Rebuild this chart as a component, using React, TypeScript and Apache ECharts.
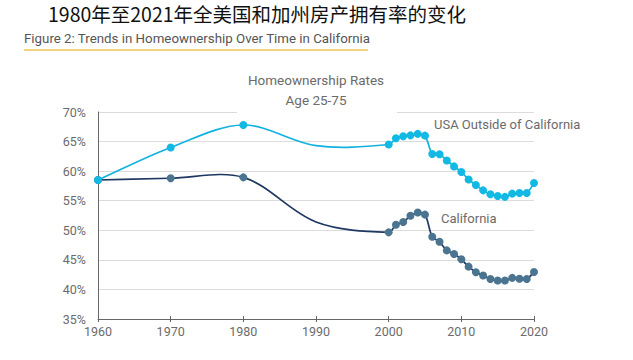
import React, { useEffect, useRef } from "react";
import * as echarts from "echarts";

// Years on the curves (1990 is a point the curves pass through, drawn without a marker in the reference)
const years = [1960, 1970, 1980, 1990, 2000, 2001, 2002, 2003, 2004, 2005, 2006, 2007, 2008, 2009, 2010, 2011, 2012, 2013, 2014, 2015, 2016, 2017, 2018, 2019, 2020];
const usaValues = [58.5, 64.0, 67.8, 64.3, 64.5, 65.55, 65.9, 66.05, 66.3, 66.0, 62.9, 62.85, 61.8, 60.8, 59.85, 58.6, 57.65, 56.75, 56.1, 55.8, 55.65, 56.2, 56.3, 56.3, 58.0];
const caValues = [58.5, 58.8, 58.95, 51.4, 49.65, 50.95, 51.4, 52.45, 53.0, 52.65, 48.9, 48.05, 46.6, 46.0, 45.1, 43.85, 42.9, 42.35, 41.75, 41.5, 41.5, 41.95, 41.8, 41.75, 42.95];
const yearsWithoutMarker = [1990];
const yTickValues = [35, 40, 45, 50, 55, 60, 65, 70];
const xTickValues = [1960, 1970, 1980, 1990, 2000, 2010, 2020];

const mainTitle = "1980年至2021年全美国和加州房产拥有率的变化";
const subTitle = "Figure 2: Trends in Homeownership Over Time in California";
const chartTitle1 = "Homeownership Rates";
const chartTitle2 = "Age 25-75";
const usaLabel = "USA Outside of California";
const caLabel = "California";

const FONT = "'Liberation Sans Narrow', Roboto, sans-serif";

function smoothPath(pts: number[][]): string {
  const n = pts.length;
  const tension = 1 / 3;
  const cpPrev: number[][] = [];
  const cpNext: number[][] = [];
  for (let i = 0; i < n; i++) {
    const p = pts[i];
    const a = pts[Math.max(i - 1, 0)];
    const b = pts[Math.min(i + 1, n - 1)];
    const vx = b[0] - a[0];
    const vy = b[1] - a[1];
    const d0 = Math.hypot(p[0] - a[0], p[1] - a[1]);
    const d1 = Math.hypot(b[0] - p[0], b[1] - p[1]);
    const sum = d0 + d1 || 1;
    cpPrev.push([p[0] - vx * tension * (d0 / sum), p[1] - vy * tension * (d0 / sum)]);
    cpNext.push([p[0] + vx * tension * (d1 / sum), p[1] + vy * tension * (d1 / sum)]);
  }
  let d = `M${pts[0][0]},${pts[0][1]}`;
  for (let i = 0; i < n - 1; i++) {
    const c1 = cpNext[i];
    const c2 = cpPrev[i + 1];
    const q = pts[i + 1];
    d += ` C${c1[0]},${c1[1]} ${c2[0]},${c2[1]} ${q[0]},${q[1]}`;
  }
  return d;
}

export default function App() {
  const ref = useRef<HTMLDivElement>(null);
  useEffect(() => {
    if (!ref.current) return;
    const chart = echarts.init(ref.current, undefined, { renderer: "svg" });
    const usaData = years.map((y, i) => [y, usaValues[i]]);
    const caData = years.map((y, i) => [y, caValues[i]]);
    const usaMarkers = usaData.filter((d) => !yearsWithoutMarker.includes(d[0]));
    const caMarkers = caData.filter((d) => !yearsWithoutMarker.includes(d[0]));
    const xMin = xTickValues[0];
    const xMax = xTickValues[xTickValues.length - 1];
    const yMin = yTickValues[0];
    const yMax = yTickValues[yTickValues.length - 1];

    const curve = (data: number[][], color: string, z: number) => ({
      type: "custom",
      data,
      z,
      silent: true,
      renderItem: (params: any, api: any) => {
        if (params.dataIndex !== 0) return null;
        const pts = data.map((d) => api.coord(d));
        return {
          type: "path",
          shape: { pathData: smoothPath(pts) },
          style: { fill: "none", stroke: color, lineWidth: 1.7 },
        };
      },
    });

    chart.setOption({
      animation: false,
      backgroundColor: "#ffffff",
      grid: { left: 98, right: 99, top: 112, bottom: 41, containLabel: false },
      xAxis: [
        {
          type: "value",
          min: xMin,
          max: xMax,
          interval: 10,
          axisLine: { show: true, lineStyle: { color: "#666666", width: 1 } },
          axisTick: { show: true, inside: false, length: 3, lineStyle: { color: "#666666" } },
          axisLabel: { color: "#6b6b6b", fontSize: 12.5, fontFamily: FONT, margin: 6, formatter: (v: number) => String(v) },
          splitLine: { show: false },
        },
        {
          type: "value",
          position: "bottom",
          min: xMin,
          max: xMax,
          interval: 10,
          axisLine: { show: false },
          axisTick: { show: true, inside: true, length: 3, lineStyle: { color: "#666666" } },
          axisLabel: { show: false },
          splitLine: { show: false },
        },
      ],
      yAxis: {
        type: "value",
        min: yMin,
        max: yMax,
        interval: 5,
        axisLine: { show: true, lineStyle: { color: "#666666", width: 1 } },
        axisTick: { show: false },
        axisLabel: { color: "#6b6b6b", fontSize: 12.5, fontFamily: FONT, margin: 12, formatter: "{value}%" },
        splitLine: { show: true, lineStyle: { color: "#dcdcdc", width: 1 } },
      },
      series: [
        curve(caData, "#1e3862", 2),
        {
          name: caLabel,
          type: "scatter",
          data: caMarkers,
          symbol: "circle",
          symbolSize: 8,
          itemStyle: { color: "#4a7490", opacity: 1 },
          z: 3,
        },
        curve(usaData, "#12b2e0", 4),
        {
          name: usaLabel,
          type: "scatter",
          data: usaMarkers,
          symbol: "circle",
          symbolSize: 8,
          itemStyle: { color: "#12b9e3", opacity: 1 },
          z: 5,
        },
      ],
      graphic: [
        {
          type: "text",
          left: 48,
          top: 4,
          style: { text: mainTitle, fontSize: 19.5, fill: "#111111", fontFamily: "'Noto Sans CJK SC', sans-serif" },
        },
        {
          type: "text",
          x: 24,
          y: 38,
          style: { text: subTitle, fontSize: 13.3, fill: "#555555", fontFamily: FONT, verticalAlign: "middle" },
        },
        {
          type: "line",
          shape: { x1: 24, y1: 50, x2: 368, y2: 50 },
          style: { stroke: "#f0c45a", lineWidth: 1.5 },
        },
        {
          type: "rect",
          z: 50,
          shape: { x: 237, y: 68, width: 160, height: 46 },
          style: { fill: "#ffffff" },
        },
        {
          type: "text",
          z: 60,
          x: 316,
          y: 80,
          style: { text: chartTitle1, fontSize: 13.5, fill: "#6b6b6b", fontFamily: FONT, align: "center", verticalAlign: "middle" },
        },
        {
          type: "text",
          z: 60,
          x: 316,
          y: 100,
          style: { text: chartTitle2, fontSize: 13.5, fill: "#6b6b6b", fontFamily: FONT, align: "center", verticalAlign: "middle" },
        },
        {
          type: "text",
          z: 60,
          x: 434,
          y: 124,
          style: { text: usaLabel, fontSize: 13, fill: "#6b6b6b", fontFamily: FONT, verticalAlign: "middle" },
        },
        {
          type: "text",
          z: 60,
          x: 441,
          y: 218,
          style: { text: caLabel, fontSize: 13, fill: "#6b6b6b", fontFamily: FONT, verticalAlign: "middle" },
        },
      ],
    });
    return () => chart.dispose();
  }, []);
  return <div ref={ref} style={{ position: "absolute", left: 0, top: 0, width: 633, height: 360 }} />;
}
